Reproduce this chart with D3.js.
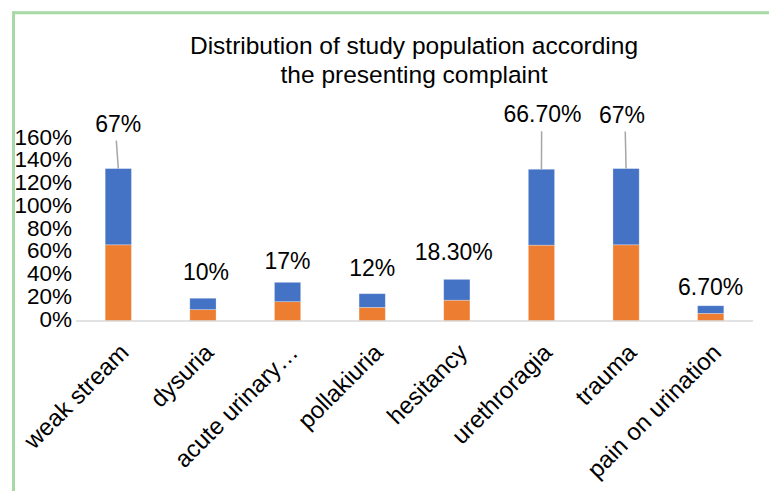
<!DOCTYPE html>
<html>
<head>
<meta charset="utf-8">
<script src="https://cdn.jsdelivr.net/npm/d3@7/dist/d3.min.js"></script>
<style>
  html, body { margin: 0; padding: 0; background: #fff; }
  svg { display: block; font-family: "Liberation Sans", Arial, Helvetica, sans-serif; }
</style>
</head>
<body>
<svg id="chart" width="769" height="491"></svg>
<script>
// Presenting complaints and their share of the study population (%)
const categories = ["weak stream", "dysuria", "acute urinary\u2026", "pollakiuria",
                    "hesitancy", "urethroragia", "trauma", "pain on urination"];
const lowerSeries = [67, 10, 17, 12, 18.3, 66.7, 67, 6.7];
const upperSeries = [67, 10, 17, 12, 18.3, 66.7, 67, 6.7];
const yTicks = [0, 20, 40, 60, 80, 100, 120, 140, 160];
const titleLines = ["Distribution of study population according", "the presenting complaint"];

// Label placement (pixels above the stack top) and whether a leader line is drawn
const labelLift = [45, 26, 21, 26, 27, 55, 54, 19];
const labelShift = [0, 3, 0, 0, -3, 1, -4, 0];
const hasLeader = [true, false, false, false, false, true, true, false];

const W = 769, H = 491;
const svg = d3.select("#chart");

// Frame lines along the top and left edges
svg.append("line").attr("x1", 13.5).attr("y1", 12.8).attr("x2", W).attr("y2", 12.8)
  .attr("stroke", "#a6d9a6").attr("stroke-width", 3);
svg.append("line").attr("x1", 13.5).attr("y1", 11.3).attr("x2", 13.5).attr("y2", H)
  .attr("stroke", "#a6d9a6").attr("stroke-width", 3);

// Title
const title = svg.append("text").attr("text-anchor", "middle")
  .attr("font-size", 24.5).attr("fill", "#000");
titleLines.forEach((t, i) => {
  title.append("tspan").attr("x", 414).attr("y", 54 + i * 29).text(t);
});

const x = d3.scaleBand().domain(categories).range([76, 753])
  .paddingInner(0.69).paddingOuter(0.345);
const y = d3.scaleLinear().domain([0, 160]).range([321, 139]);

const rows = categories.map((c, i) => ({ cat: c, lower: lowerSeries[i], upper: upperSeries[i] }));
const stacked = d3.stack().keys(["lower", "upper"])(rows);
const colors = { lower: "#ed7d31", upper: "#4472c4" };

// Y axis labels (no axis line, no ticks)
const yAxis = d3.axisLeft(y).tickValues(yTicks).tickSize(0).tickPadding(0)
  .tickFormat(d => d + "%");
const ya = svg.append("g").attr("transform", "translate(72,-2)").call(yAxis);
ya.select(".domain").remove();
ya.selectAll("text").attr("font-size", 22.5).attr("fill", "#000")
  .attr("font-family", "Liberation Sans, Arial, sans-serif");

// Stacked bars
svg.append("g").selectAll("g").data(stacked).join("g")
  .attr("fill", d => colors[d.key])
  .selectAll("rect").data(d => d).join("rect")
  .attr("x", d => x(d.data.cat))
  .attr("width", x.bandwidth())
  .attr("y", d => y(d[1]))
  .attr("height", d => y(d[0]) - y(d[1]))
  .attr("stroke", "#ffffff").attr("stroke-opacity", 0.35).attr("stroke-width", 0.8);

// Category axis line
const xAxis = d3.axisBottom(x).tickSize(0).tickPadding(0);
const xa = svg.append("g").attr("transform", "translate(0,321)").call(xAxis);
xa.select(".domain").attr("stroke", "#d9d9d9").attr("stroke-width", 1.5)
  .attr("d", "M76,0H753");
xa.selectAll(".tick text")
  .attr("font-size", 24).attr("fill", "#000")
  .attr("font-family", "Liberation Sans, Arial, sans-serif")
  .attr("text-anchor", "end")
  .attr("dy", "0.35em")
  .attr("y", 0)
  .attr("transform", "translate(6,27) rotate(-45)");

// Data labels with leader lines
const fmt = v => (Number.isInteger(v) ? v : v.toFixed(2)) + "%";
const topLayer = stacked[stacked.length - 1];
const labels = svg.append("g");
topLayer.forEach((d, i) => {
  const cx = x(d.data.cat) + x.bandwidth() / 2;
  const yt = y(d[1]);
  const ly = yt - labelLift[i];
  if (hasLeader[i]) {
    labels.append("line")
      .attr("x1", cx + labelShift[i] * 0.2 - (i === 0 ? 2 : 0)).attr("y1", ly + 17)
      .attr("x2", cx).attr("y2", yt)
      .attr("stroke", "#a6a6a6").attr("stroke-width", 1.5);
  }
  labels.append("text")
    .attr("x", cx + labelShift[i]).attr("y", ly).attr("dy", "0.35em")
    .attr("text-anchor", "middle").attr("font-size", 23).attr("fill", "#000")
    .text(fmt(upperSeries[i]));
});
</script>
</body>
</html>
